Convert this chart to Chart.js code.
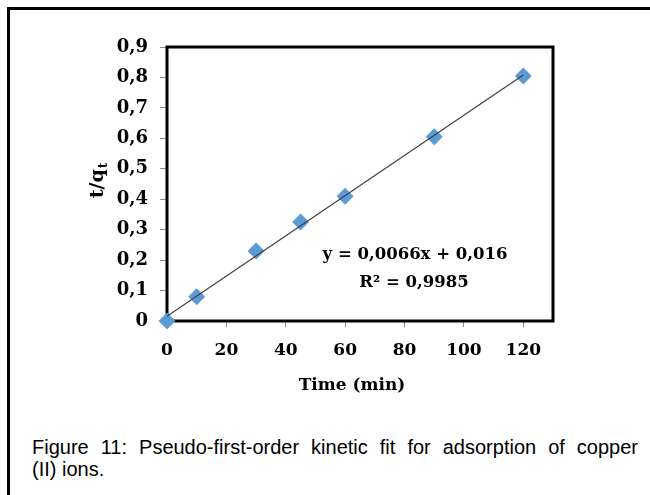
<!DOCTYPE html>
<html lang="en">
  <head>
    <meta charset="UTF-8" />
    <title>Figure 11</title>
    <script src="https://cdn.jsdelivr.net/npm/chart.js@4.4.1/dist/chart.umd.min.js"></script>
    <style>
      html,
      body {
        margin: 0;
        padding: 0;
        background: #fff;
        width: 650px;
        height: 495px;
        overflow: hidden;
      }
      .frame {
        position: absolute;
        left: 7px;
        top: 7px;
        width: 720px;
        height: 540px;
        border: 3px solid #000;
        box-sizing: border-box;
      }
      #chart {
        position: absolute;
        left: 0;
        top: 0;
      }
      .caption {
        position: absolute;
        left: 32px;
        top: 436px;
        width: 606px;
        font-family: 'Liberation Sans', Arial, sans-serif;
        font-size: 20px;
        line-height: 22.4px;
        color: #000;
      }
      .caption .l1 {
        text-align: justify;
        text-align-last: justify;
      }
    </style>
  </head>
  <body>
    <div class="frame"></div>
    <canvas id="chart" width="650" height="420"></canvas>
    <div class="caption">
      <div class="l1">Figure 11: Pseudo-first-order kinetic fit for adsorption of copper</div>
      <div>(II) ions.</div>
    </div>

    <script>
      // data
      const timeMin = [0, 10, 30, 45, 60, 90, 120];
      const tOverQ = [0, 0.08, 0.23, 0.325, 0.41, 0.605, 0.805];

      // linear trendline (Excel fit) end points
      const trendX = [0, 120];
      const trendY = [0.016, 0.808];

      const xTickLabels = ['0', '20', '40', '60', '80', '100', '120'];
      const yTickLabels = ['0', '0,1', '0,2', '0,3', '0,4', '0,5', '0,6', '0,7', '0,8', '0,9'];
      const equationLines = ['y = 0,0066x + 0,016', 'R² = 0,9985'];

      const serif = '"DejaVu Serif", serif';

      // plot frame, axis titles and trendline label
      const annotations = {
        id: 'annotations',
        beforeDatasetsDraw(chart) {
          const { ctx, chartArea: a } = chart;
          ctx.save();
          ctx.strokeStyle = '#000';
          ctx.lineWidth = 3;
          ctx.strokeRect(a.left, a.top, a.right - a.left, a.bottom - a.top);
          ctx.restore();
        },
        afterDraw(chart) {
          const { ctx, chartArea: a } = chart;
          ctx.save();
          ctx.fillStyle = '#000';
          ctx.textBaseline = 'alphabetic';

          // equation
          ctx.textAlign = 'center';
          ctx.font = 'bold 16.5px ' + serif;
          ctx.fillText(equationLines[0], a.left + 248, a.top + 212);
          ctx.fillText(equationLines[1], a.left + 247, a.top + 240);

          // x title
          ctx.font = 'bold 17px ' + serif;
          ctx.fillText('Time (min)', (a.left + a.right) / 2 - 8, a.bottom + 69);

          // y title t/q with subscript t
          ctx.translate(a.left - 64, (a.top + a.bottom) / 2 - 3);
          ctx.rotate(-Math.PI / 2);
          ctx.textAlign = 'left';
          ctx.font = 'bold 19px ' + serif;
          const wMain = ctx.measureText('t/q').width;
          ctx.font = 'bold 12px ' + serif;
          const wSub = ctx.measureText('t').width;
          const u = -(wMain + wSub) / 2;
          ctx.font = 'bold 19px ' + serif;
          ctx.fillText('t/q', u, 0);
          ctx.font = 'bold 12px ' + serif;
          ctx.fillText('t', u + wMain + 1, 4);
          ctx.restore();
        },
      };

      new Chart(document.getElementById('chart'), {
        type: 'scatter',
        data: {
          datasets: [
            {
              type: 'line',
              data: trendX.map((x, i) => ({ x: x, y: trendY[i] })),
              borderColor: '#404040',
              borderWidth: 1.2,
              pointRadius: 0,
              fill: false,
              order: 0,
              clip: false,
            },
            {
              data: timeMin.map((x, i) => ({ x: x, y: tOverQ[i] })),
              pointStyle: 'rectRot',
              pointRadius: 8.5,
              backgroundColor: '#5B9BD5',
              pointBackgroundColor: '#5B9BD5',
              pointBorderWidth: 0,
              order: 1,
              clip: false,
            },
          ],
        },
        options: {
          responsive: false,
          animation: false,
          events: [],
          layout: { padding: { top: 47, right: 97, left: 0, bottom: 0 } },
          plugins: {
            legend: { display: false },
            tooltip: { enabled: false },
          },
          scales: {
            x: {
              type: 'linear',
              min: 0,
              max: 130,
              afterFit(scale) {
                scale.height = 99;
              },
              border: { display: false },
              grid: { drawOnChartArea: false, tickLength: 6, color: '#8c8c8c' },
              ticks: {
                stepSize: 20,
                includeBounds: false,
                padding: 13,
                maxRotation: 0,
                color: '#000',
                font: { family: serif, size: 17, weight: 'bold' },
                callback: (v, i) => xTickLabels[i],
              },
            },
            y: {
              type: 'linear',
              min: 0,
              max: 0.9,
              afterFit(scale) {
                scale.width = 167;
              },
              border: { display: false },
              grid: { drawOnChartArea: false, tickLength: 7, color: '#8c8c8c' },
              ticks: {
                stepSize: 0.1,
                padding: 12,
                color: '#000',
                font: { family: serif, size: 18, weight: 'bold' },
                callback: (v, i) => yTickLabels[i],
              },
            },
          },
        },
        plugins: [annotations],
      });
    </script>
  </body>
</html>
